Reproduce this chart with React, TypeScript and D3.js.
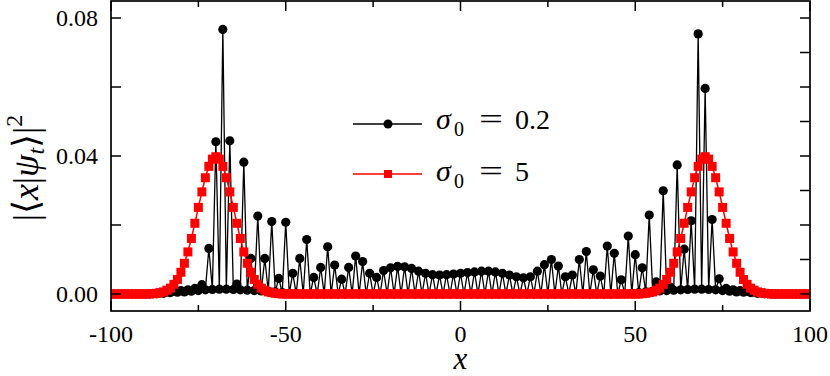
import React from "react";
import * as d3 from "d3";

const sites: number[] = d3.range(-100, 101);

const blackValues: number[] = [
  0, 0, 0, 0, 0, 0, 0, 0, 0, 0,
  0, 0, 0.0001, 0.0001, 0.0003, 0.0002, 0.0005, 0.0004, 0.0008, 0.0005,
  0.0010, 0.0006, 0.0012, 0.0008, 0.0016, 0.0010, 0.0027, 0.0012, 0.0132, 0.0013,
  0.0441, 0.0014, 0.0767, 0.0014, 0.0444, 0.0013, 0.0029, 0.0012, 0.0382, 0.0011,
  0.0103, 0.0010, 0.0226, 0.0009, 0.0103, 0.0008, 0.0210, 0.0006, 0.0045, 0.0004,
  0.0208, 0.0002, 0.0060, 0.0001, 0.0103, 0, 0.0158, 0, 0.0048, 0,
  0.0077, 0, 0.0137, 0, 0.0084, 0, 0.0043, 0, 0.0077, 0,
  0.0110, 0, 0.0094, 0, 0.0060, 0, 0.0048, 0, 0.0068, 0,
  0.0076, 0, 0.0080, 0, 0.0079, 0, 0.0074, 0, 0.0066, 0,
  0.0060, 0, 0.0056, 0, 0.0055, 0, 0.0056, 0, 0.0058, 0,
  0.0060, 0, 0.0062, 0, 0.0064, 0, 0.0066, 0, 0.0066, 0,
  0.0064, 0, 0.0060, 0, 0.0055, 0, 0.0050, 0, 0.0047, 0,
  0.0050, 0, 0.0066, 0, 0.0085, 0, 0.0100, 0, 0.0081, 0,
  0.0050, 0, 0.0055, 0, 0.0100, 0, 0.0123, 0, 0.0070, 0,
  0.0052, 0, 0.0139, 0, 0.0118, 0, 0.0041, 0.0001, 0.0168, 0.0002,
  0.0114, 0.0004, 0.0076, 0.0006, 0.0229, 0.0008, 0.0035, 0.0009, 0.0299, 0.0010,
  0.0020, 0.0011, 0.0374, 0.0012, 0.0130, 0.0013, 0.0212, 0.0014, 0.0754, 0.0014,
  0.0596, 0.0013, 0.0216, 0.0012, 0.0044, 0.0010, 0.0016, 0.0008, 0.0012, 0.0006,
  0.0010, 0.0005, 0.0008, 0.0004, 0.0005, 0.0002, 0.0003, 0.0001, 0.0001, 0,
  0, 0, 0, 0, 0, 0, 0, 0, 0, 0,
  0,
];

const redValues: number[] = [
  0, 0, 0, 0, 0, 0, 0, 0, 0, 0,
  0, 0, 0.0001, 0.0002, 0.0004, 0.0006, 0.0011, 0.0017, 0.0028, 0.0042,
  0.0063, 0.0089, 0.0122, 0.0161, 0.0205, 0.0251, 0.0296, 0.0337, 0.0370, 0.0391,
  0.0398, 0.0391, 0.0370, 0.0337, 0.0296, 0.0251, 0.0205, 0.0161, 0.0122, 0.0089,
  0.0063, 0.0042, 0.0028, 0.0017, 0.0011, 0.0006, 0.0004, 0.0002, 0.0001, 0,
  0, 0, 0, 0, 0, 0, 0, 0, 0, 0,
  0, 0, 0, 0, 0, 0, 0, 0, 0, 0,
  0, 0, 0, 0, 0, 0, 0, 0, 0, 0,
  0, 0, 0, 0, 0, 0, 0, 0, 0, 0,
  0, 0, 0, 0, 0, 0, 0, 0, 0, 0,
  0, 0, 0, 0, 0, 0, 0, 0, 0, 0,
  0, 0, 0, 0, 0, 0, 0, 0, 0, 0,
  0, 0, 0, 0, 0, 0, 0, 0, 0, 0,
  0, 0, 0, 0, 0, 0, 0, 0, 0, 0,
  0, 0, 0, 0, 0, 0, 0, 0, 0, 0,
  0, 0, 0.0001, 0.0002, 0.0004, 0.0006, 0.0011, 0.0017, 0.0028, 0.0042,
  0.0063, 0.0089, 0.0122, 0.0161, 0.0205, 0.0251, 0.0296, 0.0337, 0.0370, 0.0391,
  0.0398, 0.0391, 0.0370, 0.0337, 0.0296, 0.0251, 0.0205, 0.0161, 0.0122, 0.0089,
  0.0063, 0.0042, 0.0028, 0.0017, 0.0011, 0.0006, 0.0004, 0.0002, 0.0001, 0,
  0, 0, 0, 0, 0, 0, 0, 0, 0, 0,
  0,
];

const xMajorTicks = [-100, -50, 0, 50, 100];
const xMinorTicks = [-75, -25, 25, 75];
const xTickLabels = ["-100", "-50", "0", "50", "100"];
const yLabelTicks = [0, 0.04, 0.08];
const yTickLabels = ["0.00", "0.04", "0.08"];
const yLeftTicks = [0, 0.02, 0.04, 0.06, 0.08];
const yRightTicks = [0, 0.01, 0.02, 0.03, 0.04, 0.05, 0.06, 0.07, 0.08];
const legendLabels = ["0.2", "5"];

const FF = "Tinos";

export default function App() {
  const W = 830, H = 376;
  const L = 111, R = 810, Tp = 1, B = 311;
  const x = d3.scaleLinear().domain([-100, 100]).range([L, R]);
  const y = d3.scaleLinear().domain([-0.00493, 0.08493]).range([B, Tp]);
  const line = d3
    .line<number>()
    .x((_, i) => x(sites[i]))
    .y((d) => y(d));
  const sq = 9;

  return (
    <svg width={W} height={H} style={{ position: "absolute", left: 0, top: 0 }}>
      <defs>
        <clipPath id="plotArea">
          <rect x={L} y={Tp} width={R - L} height={B - Tp} />
        </clipPath>
      </defs>
      <g clipPath="url(#plotArea)">
        <path d={line(blackValues) || ""} fill="none" stroke="#000" strokeWidth={1.3} />
        {blackValues.map((v, i) => (
          <circle key={"b" + i} cx={x(sites[i])} cy={y(v)} r={4.6} fill="#000" />
        ))}
        <path d={line(redValues) || ""} fill="none" stroke="#ff0000" strokeWidth={1.5} />
        {redValues.map((v, i) => (
          <rect key={"r" + i} x={x(sites[i]) - sq / 2} y={y(v) - sq / 2} width={sq} height={sq} fill="#ff0000" />
        ))}
      </g>

      <rect x={L} y={Tp} width={R - L} height={B - Tp} fill="none" stroke="#000" strokeWidth={1.7} />

      {xMajorTicks.map((t) => (
        <g key={"xm" + t}>
          <line x1={x(t)} x2={x(t)} y1={B} y2={B - 10} stroke="#000" strokeWidth={1.5} />
          <line x1={x(t)} x2={x(t)} y1={Tp} y2={Tp + 10} stroke="#000" strokeWidth={1.5} />
        </g>
      ))}
      {xMinorTicks.map((t) => (
        <g key={"xn" + t}>
          <line x1={x(t)} x2={x(t)} y1={B} y2={B - 6} stroke="#000" strokeWidth={1.5} />
          <line x1={x(t)} x2={x(t)} y1={Tp} y2={Tp + 6} stroke="#000" strokeWidth={1.5} />
        </g>
      ))}
      {xMajorTicks.map((t, i) => (
        <text key={"xl" + t} x={x(t)} y={342} fontSize={24} textAnchor="middle" style={{ fontFamily: FF }}>
          {xTickLabels[i]}
        </text>
      ))}

      {yLeftTicks.map((t) => (
        <line key={"yl" + t} x1={L} x2={L + 10} y1={y(t)} y2={y(t)} stroke="#000" strokeWidth={1.5} />
      ))}
      {yRightTicks.map((t) => (
        <line key={"yr" + t} x1={R} x2={R - 10} y1={y(t)} y2={y(t)} stroke="#000" strokeWidth={1.5} />
      ))}
      {yLabelTicks.map((t, i) => (
        <text key={"ylab" + t} x={98} y={y(t) + 8} fontSize={24} textAnchor="end" style={{ fontFamily: FF }}>
          {yTickLabels[i]}
        </text>
      ))}

      <text x={x(0)} y={369} fontSize={31} fontStyle="italic" textAnchor="middle" style={{ fontFamily: FF }}>
        x
      </text>
      <text transform="translate(38,168) rotate(-90)" fontSize={36} textAnchor="middle" style={{ fontFamily: FF }}>
        <tspan>|⟨</tspan>
        <tspan fontStyle="italic">x</tspan>
        <tspan>|</tspan>
        <tspan fontStyle="italic">ψ</tspan>
        <tspan fontStyle="italic" fontSize={24} dy={6}>t</tspan>
        <tspan dy={-6}>⟩|</tspan>
        <tspan fontSize={24} dy={-16}>2</tspan>
      </text>

      <line x1={353} x2={422} y1={124} y2={124} stroke="#000" strokeWidth={1.3} />
      <circle cx={388} cy={124} r={4.5} fill="#000" />
      <line x1={353} x2={422} y1={174} y2={174} stroke="#ff0000" strokeWidth={1.5} />
      <rect x={388 - 4} y={174 - 4} width={8} height={8} fill="#ff0000" />
      {legendLabels.map((lab, i) => {
        const by = 129 + i * 52;
        return (
          <g key={"leg" + i}>
            <text x={436} y={by} fontSize={30} fontStyle="italic" style={{ fontFamily: FF }}>σ</text>
            <text x={454} y={by + 7} fontSize={20} style={{ fontFamily: FF }}>0</text>
            <text x={479} y={by} fontSize={30} textLength={24} lengthAdjust="spacingAndGlyphs" style={{ fontFamily: FF }}>=</text>
            <text x={515} y={by} fontSize={28} style={{ fontFamily: FF }}>{lab}</text>
          </g>
        );
      })}
    </svg>
  );
}
